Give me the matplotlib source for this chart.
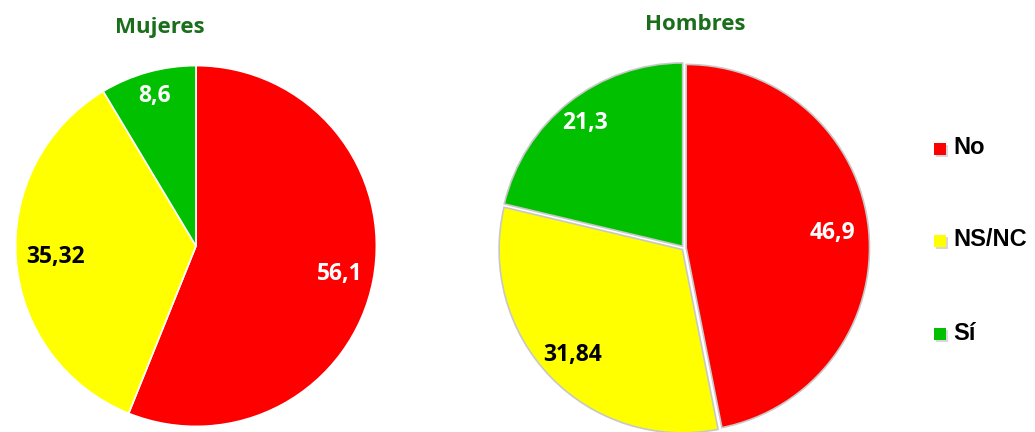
import matplotlib
matplotlib.use("Agg")
import matplotlib.pyplot as plt
import numpy as np

categories = ["No", "NS/NC", "Sí"]
mujeres = [56.1, 35.32, 8.6]
hombres = [46.9, 31.84, 21.3]
mujeres_labels = ["56,1", "35,32", "8,6"]
hombres_labels = ["46,9", "31,84", "21,3"]
colors = ["#FF0000", "#FFFF00", "#00C000"]
label_colors = ["white", "black", "white"]

W, H = 1035, 432
fig = plt.figure(figsize=(W / 100, H / 100), dpi=100)

def pie_axes(cx, cy, r):
    return fig.add_axes([(cx - r) / W, (H - cy - r) / H, 2 * r / W, 2 * r / H])

def draw(ax, vals, labels, dists, explode, edge):
    wedges, _ = ax.pie(vals, colors=colors, startangle=90, counterclock=False,
                       explode=explode,
                       wedgeprops=dict(edgecolor=edge, linewidth=1.2))
    for w, lab, col, d in zip(wedges, labels, label_colors, dists):
        ang = np.deg2rad((w.theta1 + w.theta2) / 2)
        cx, cy = w.center
        ax.text(cx + d * np.cos(ang), cy + d * np.sin(ang), lab, ha="center",
                va="center", color=col, fontsize=16.5, fontweight="bold",
                family="Open Sans")
    ax.set_xlim(-1.02, 1.02)
    ax.set_ylim(-1.02, 1.02)
    ax.set_aspect("equal")
    ax.axis("off")

ax1 = pie_axes(196, 246, 184)
draw(ax1, mujeres, mujeres_labels, [0.81, 0.78, 0.86], [0, 0, 0], "white")
ax2 = pie_axes(684, 248, 187)
draw(ax2, hombres, hombres_labels, [0.80, 0.83, 0.86], [0.012, 0.012, 0.012], "#c8c8c8")

fig.text(160 / W, 1 - 27 / H, "Mujeres", ha="center", va="center",
         color="#1B6E1B", fontsize=16, fontweight="bold", family="Open Sans")
fig.text(695 / W, 1 - 24 / H, "Hombres", ha="center", va="center",
         color="#1B6E1B", fontsize=16, fontweight="bold", family="Open Sans")

leg_y = [148, 240, 333]
for cat, col, y in zip(categories, colors, leg_y):
    fig.patches.append(plt.Rectangle(((934 + 1.5) / W, (H - y - 7 - 1.5) / H),
                                     12 / W, 12 / H, transform=fig.transFigure,
                                     facecolor="#d8d8d8", edgecolor="none"))
    fig.patches.append(plt.Rectangle((934 / W, (H - y - 7) / H), 12 / W, 12 / H,
                                     transform=fig.transFigure, facecolor=col,
                                     edgecolor="none"))
    fig.text(953 / W, 1 - y / H, cat, ha="left", va="center", color="black",
             fontsize=17, fontweight="bold", family="Liberation Sans")

fig.savefig("out.png", dpi=100, facecolor="white")
